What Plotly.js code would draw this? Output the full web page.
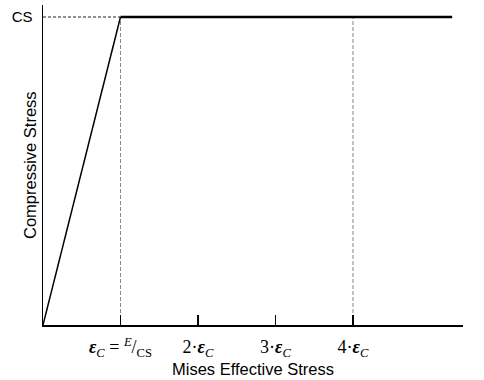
<!DOCTYPE html>
<html><head><meta charset="utf-8">
<script src="https://cdn.plot.ly/plotly-3.0.1.min.js"></script>
<style>html,body{margin:0;padding:0;background:#fff}</style>
</head><body>
<div id="chart" style="width:484px;height:380px"></div>
<script>
// Data (strain in units of eps_C, stress in units of CS)
var curveX = [0, 1, 5.28];
var curveY = [0, 1, 1];
var guideHX = [0, 1];
var guideHY = [1, 1];
var guideV1X = [1, 1];
var guideV1Y = [0, 1];
var guideV4X = [4, 4];
var guideV4Y = [0, 1];
var xTickVals = [1, 2, 3, 4];
var xTickText = ['<b><i>ε</i></b><sub><i>C</i></sub> = <sup><i>E</i></sup>/<sub>CS</sub>', '2·<b><i>ε</i></b><sub><i>C</i></sub>', '3·<b><i>ε</i></b><sub><i>C</i></sub>', '4·<b><i>ε</i></b><sub><i>C</i></sub>'];
var yTickVals = [1];
var yTickText = ['CS'];

var dash = {color: '#888', width: 1, dash: '4px,2px'};
var traces = [
  {x: guideHX, y: guideHY, mode: 'lines', line: {color: '#222', width: 1, dash: '3px,2px'}, hoverinfo: 'skip'},
  {x: guideV1X, y: guideV1Y, mode: 'lines', line: dash, hoverinfo: 'skip'},
  {x: guideV4X, y: guideV4Y, mode: 'lines', line: dash, hoverinfo: 'skip'},
  {x: curveX.slice(0, 2), y: curveY.slice(0, 2), mode: 'lines', line: {color: '#000', width: 1.5}},
  {x: curveX.slice(1), y: curveY.slice(1), mode: 'lines', line: {color: '#000', width: 2.5}}
];
var layout = {
  width: 484, height: 380,
  margin: {l: 43, r: 21, t: 5, b: 55},
  showlegend: false,
  paper_bgcolor: '#fff', plot_bgcolor: '#fff',
  xaxis: {
    range: [0, 5.42], showgrid: false, zeroline: false,
    showline: true, linecolor: '#000', linewidth: 1.5,
    ticks: 'inside', ticklen: 10, tickcolor: '#000', tickwidth: 1.5,
    tickvals: xTickVals, ticktext: xTickText, ticklabelstandoff: 5,
    tickfont: {family: 'Liberation Serif, Times New Roman, serif', size: 18, color: '#000'},
    title: {text: 'Mises Effective Stress', font: {family: 'Liberation Sans, Arial, sans-serif', size: 16.5, color: '#000'}, standoff: 0}
  },
  yaxis: {
    range: [0, 1.039], showgrid: false, zeroline: false,
    showline: true, linecolor: '#000', linewidth: 1.5,
    ticks: '', tickvals: yTickVals, ticktext: yTickText, ticklabelstandoff: 6,
    tickfont: {family: 'Liberation Sans, Arial, sans-serif', size: 15, color: '#000'}
  },
  annotations: [{
    text: 'Compressive Stress', xref: 'paper', yref: 'paper', x: 0, y: 0.5,
    xshift: -13, xanchor: 'center', yanchor: 'middle', textangle: -90, showarrow: false,
    font: {family: 'Liberation Sans, Arial, sans-serif', size: 16.5, color: '#000'}
  }]
};
Plotly.newPlot('chart', traces, layout, {displayModeBar: false, staticPlot: true});
</script>
</body></html>
